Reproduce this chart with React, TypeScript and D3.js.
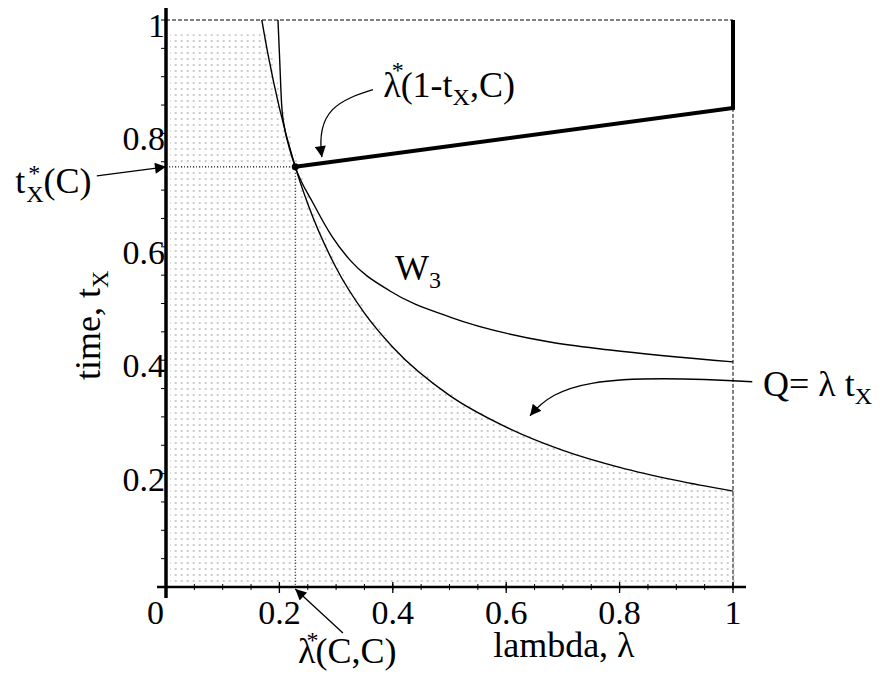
import React from 'react';
import * as d3 from 'd3';

// values
const xTicks = [0, 0.2, 0.4, 0.6, 0.8, 1];
const yTicks = [0.2, 0.4, 0.6, 0.8, 1];
const lambdaStar = 0.228;
const tStar = 0.741;

// lower curve Q = lambda t_X (boundary of shaded region)
const qCurve: [number, number][] = [
  [0.169, 1.0], [0.18, 0.939], [0.2, 0.845], [0.228, 0.741], [0.25, 0.676],
  [0.3, 0.563], [0.35, 0.483], [0.4, 0.423], [0.5, 0.338], [0.6, 0.282],
  [0.7, 0.241], [0.8, 0.211], [0.9, 0.188], [1.0, 0.169],
];
// W3 curve
const w3Curve: [number, number][] = [
  [0.1975, 1.0], [0.2005, 0.93], [0.204, 0.85], [0.209, 0.81], [0.216, 0.78],
  [0.228, 0.741], [0.26, 0.676], [0.293, 0.618], [0.325, 0.576], [0.395, 0.522],
  [0.501, 0.476], [0.677, 0.432], [0.783, 0.418], [1.0, 0.397],
];
// bold boundary lambda*(1-t_X, C)
const boldLine: [number, number][] = [[0.228, 0.741], [1, 0.845], [1, 1]];
const shadeTop = 0.975;

const W = 891, H = 679;
const font = '"Liberation Serif", "Times New Roman", serif';

export default function App() {
  const x = d3.scaleLinear().domain([0, 1]).range([166, 733]);
  const y = d3.scaleLinear().domain([0, 1]).range([587, 20]);

  const line = d3.line<[number, number]>().x(d => x(d[0])).y(d => y(d[1])).curve(d3.curveMonotoneX);
  const shadePts: [number, number][] = [[0, shadeTop], ...qCurve.map(d => [d[0], Math.min(d[1], shadeTop)] as [number, number])];
  const area = d3.area<[number, number]>().x(d => x(d[0])).y0(y(0) - 3).y1(d => y(d[1])).curve(d3.curveMonotoneX);
  const bold = d3.line<[number, number]>().x(d => x(d[0])).y(d => y(d[1]));

  const minor = x.ticks(25);

  // annotation anchor points in data units
  const P = (l: number, t: number) => [x(l), y(t)];
  const [a1x, a1y] = P(0.365, 0.877);
  const [c1x, c1y] = P(0.307, 0.859);
  const [c2x, c2y] = P(0.263, 0.841);
  const [e1x, e1y] = P(0.275, 0.758);

  const [q0x, q0y] = P(1.034, 0.362);
  const [q1x, q1y] = P(0.76, 0.378);
  const [q2x, q2y] = P(0.69, 0.36);
  const [q3x, q3y] = P(0.642, 0.302);

  return (
    <svg width={W} height={H} style={{ position: 'absolute', left: 0, top: 0, background: '#fff' }} fontFamily={font}>
      <defs>
        <pattern id="dots" patternUnits="userSpaceOnUse" x={2.7} y={4} width={6} height={6}>
          <rect x={0} y={0} width={2} height={2} fill="#cccccc" />
        </pattern>
        <marker id="ah" viewBox="0 0 10 10" refX={10} refY={5} markerWidth={13} markerHeight={11}
          markerUnits="userSpaceOnUse" orient="auto">
          <path d="M0,0 L10,5 L0,10 z" fill="#000" />
        </marker>
      </defs>
      <rect width={W} height={H} fill="#fff" />

      {/* shaded region */}
      <path d={area(shadePts) || ''} fill="url(#dots)" transform="translate(4,0)" />

      {/* dashed frame */}
      <line x1={x(0)} x2={x(1)} y1={y(1)} y2={y(1)} stroke="#000" strokeWidth={1} strokeDasharray="4 2" />
      <line x1={x(1)} x2={x(1)} y1={y(0.845)} y2={y(0)} stroke="#000" strokeWidth={1} strokeDasharray="4 2" />

      {/* dotted guides */}
      <line x1={x(0)} x2={x(lambdaStar)} y1={y(tStar)} y2={y(tStar)} stroke="#000" strokeWidth={1} strokeDasharray="1 2" />
      <line x1={x(lambdaStar)} x2={x(lambdaStar)} y1={y(tStar)} y2={y(0)} stroke="#000" strokeWidth={1} strokeDasharray="1 2" />

      {/* curves */}
      <path d={line(qCurve) || ''} fill="none" stroke="#000" strokeWidth={1.4} />
      <path d={line(w3Curve) || ''} fill="none" stroke="#000" strokeWidth={1.4} />
      <path d={bold(boldLine) || ''} fill="none" stroke="#000" strokeWidth={4} />
      <circle cx={x(lambdaStar)} cy={y(tStar)} r={3.5} fill="#000" />

      {/* axes */}
      <line x1={x(0) - 9} x2={x(1) + 13} y1={y(0)} y2={y(0)} stroke="#000" strokeWidth={2.5} />
      <line x1={x(0)} x2={x(0)} y1={y(1) - 12} y2={y(0) + 11} stroke="#000" strokeWidth={3.5} />
      {minor.map(v => (
        <g key={'m' + v}>
          <line x1={x(v)} x2={x(v)} y1={y(0) - 3} y2={y(0) + 3} stroke="#000" strokeWidth={1} />
          <line x1={x(0) - 5} x2={x(0)} y1={y(v)} y2={y(v)} stroke="#000" strokeWidth={1} />
        </g>
      ))}
      {xTicks.map(v => (
        <line key={'M' + v} x1={x(v)} x2={x(v)} y1={y(0) - 5} y2={y(0) + 6} stroke="#000" strokeWidth={1.3} />
      ))}
      {xTicks.map(v => (
        <text key={'xl' + v} x={v === 0 ? x(v) - 2 : x(v)} y={y(0) + 37} fontSize={34}
          textAnchor={v === 0 ? 'end' : 'middle'}>{String(v)}</text>
      ))}
      {yTicks.map(v => (
        <text key={'yl' + v} x={x(0) - 1} y={y(v) + 17} fontSize={34} textAnchor="end">{String(v)}</text>
      ))}

      {/* axis titles */}
      <text x={x(0.577)} y={y(-0.123)} fontSize={36}>lambda, λ</text>
      <text transform={`translate(100,${y(0.365)}) rotate(-90)`} fontSize={36}>
        time, t<tspan fontSize={24} dy={8}>X</tspan>
      </text>

      {/* annotations */}
      <text x={x(-0.266)} y={y(0.695)} fontSize={36}>
        t<tspan fontSize={24} dx={3} dy={-12}>*</tspan>
        <tspan fontSize={24} dx={-14} dy={21}>X</tspan>
        <tspan dy={-9}>(C)</tspan>
      </text>
      <line x1={x(-0.122)} y1={y(0.725)} x2={x(0)} y2={y(tStar)} stroke="#000" strokeWidth={1.3} markerEnd="url(#ah)" />

      <text x={x(0.383)} y={y(0.864)} fontSize={36}>
        λ<tspan fontSize={24} dx={-9} dy={-19}>*</tspan>
        <tspan dx={-3} dy={19}>(1-t</tspan>
        <tspan fontSize={24} dy={8}>X</tspan>
        <tspan dy={-8}>,C)</tspan>
      </text>
      <path d={`M${a1x},${a1y} C${c1x},${c1y} ${c2x},${c2y} ${e1x},${e1y}`} fill="none" stroke="#000"
        strokeWidth={1.3} markerEnd="url(#ah)" />

      <text x={x(0.404)} y={y(0.541)} fontSize={36}>
        W<tspan fontSize={24} dy={8}>3</tspan>
      </text>

      <text x={x(1.053)} y={y(0.337)} fontSize={36}>
        Q= λ t<tspan fontSize={24} dy={8}>X</tspan>
      </text>
      <path d={`M${q0x},${q0y} C${q1x},${q1y} ${q2x},${q2y} ${q3x},${q3y}`} fill="none"
        stroke="#000" strokeWidth={1.3} markerEnd="url(#ah)" />

      <text x={x(0.233)} y={y(-0.134)} fontSize={36}>
        λ<tspan fontSize={24} dx={-9} dy={-15}>*</tspan>
        <tspan dx={-3} dy={15}>(C,C)</tspan>
      </text>
      <line x1={x(0.312)} y1={y(-0.081)} x2={x(lambdaStar)} y2={y(0) + 2} stroke="#000" strokeWidth={1.3}
        markerEnd="url(#ah)" />
    </svg>
  );
}
